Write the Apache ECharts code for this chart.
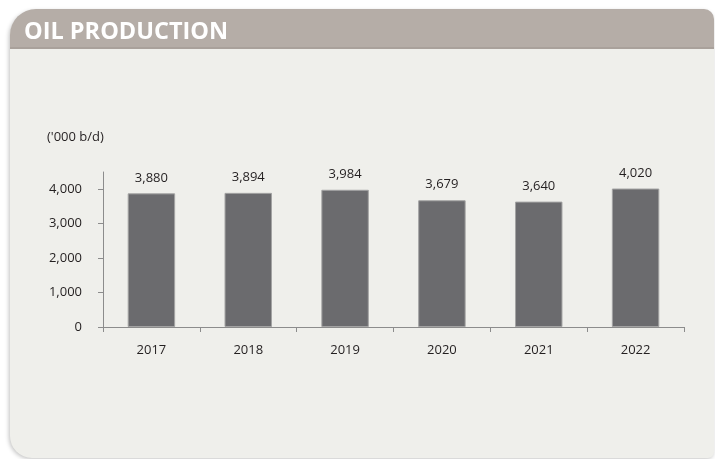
<!DOCTYPE html>
<html><head><meta charset="utf-8">
<script src="https://cdn.jsdelivr.net/npm/echarts@6/dist/echarts.min.js"></script>
<style>html,body{margin:0;padding:0;background:#fff}#c{width:715px;height:459px}</style>
</head><body><div id="c"></div>
<script>
const years = ['2017','2018','2019','2020','2021','2022'];
const production = [3880, 3894, 3984, 3679, 3640, 4020];
const yTicks = [0, 1000, 2000, 3000, 4000];
const title = 'OIL PRODUCTION';
const unit = "('000 b/d)";

const chart = echarts.init(document.getElementById('c'), null, {renderer:'canvas'});
const FONT = '"Open Sans", sans-serif';
chart.setOption({
  animation: false,
  backgroundColor: '#ffffff',
  graphic: [
    {type:'rect', z:-10, shape:{x:10,y:10,width:704,height:448,r:[26,10,6,22]},
     style:{fill:'#efefeb', shadowBlur:4, shadowColor:'rgba(0,0,0,0.25)', shadowOffsetX:-1, shadowOffsetY:1}},
    {type:'rect', z:-9, shape:{x:10,y:9,width:704,height:40,r:[26,10,0,0]},
     style:{fill:'#b5ada7'}},
    {type:'rect', z:-9, shape:{x:10,y:47,width:704,height:2},
     style:{fill:'#a9a19b'}},
    {type:'text', z:5, left:24, top:20,
     style:{text:title, fill:'#ffffff', font:'bold 23.5px "Open Sans", sans-serif'}},
    {type:'text', z:5, left:47, top:131,
     style:{text:unit, fill:'#231f20', font:'13px "Open Sans", sans-serif'}}
  ],
  grid: {left:103, right:31, top:172, bottom:132, containLabel:false},
  xAxis: {
    type:'category', data: years,
    axisLine:{lineStyle:{color:'#8c8c8c', width:1}},
    axisTick:{show:true, alignWithLabel:false, length:5, lineStyle:{color:'#8c8c8c'}},
    axisLabel:{color:'#231f20', fontFamily:FONT, fontSize:13, margin:17}
  },
  yAxis: {
    type:'value', min:0, max:4500, interval:500,
    axisLine:{show:true, lineStyle:{color:'#8c8c8c', width:1}},
    axisTick:{show:true, length:5, lineStyle:{color:'#8c8c8c'}, customValues: yTicks},
    splitLine:{show:false},
    axisLabel:{color:'#231f20', fontFamily:FONT, fontSize:13, margin:21, customValues: yTicks,
      formatter: v => v.toLocaleString('en-US')}
  },
  series: [{
    type:'bar', data: production, barWidth:'49%',
    itemStyle:{color:'#6b6b6e', borderColor:'#a3a3a3', borderWidth:1},
    label:{show:true, position:'top', distance:9, color:'#231f20', fontFamily:FONT, fontSize:13,
      formatter: p => p.value.toLocaleString('en-US')}
  }]
});
</script></body></html>
